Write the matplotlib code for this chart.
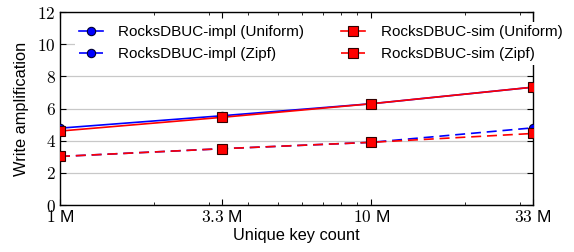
import matplotlib
matplotlib.use('Agg')
import matplotlib.pyplot as plt
from matplotlib.ticker import FixedLocator, NullFormatter, LogLocator

plt.rcParams['font.family'] = ['Liberation Sans', 'DejaVu Sans']
plt.rcParams['mathtext.fontset'] = 'cm'

# Data
keys = [1, 3.3, 10, 33]
tick_labels = ['$1$ M', '$3.3$ M', '$10$ M', '$33$ M']
impl_uniform = [4.78, 5.55, 6.3, 7.33]
sim_uniform = [4.6, 5.45, 6.3, 7.33]
impl_zipf = [3.02, 3.5, 3.9, 4.8]
sim_zipf = [3.02, 3.5, 3.9, 4.45]

fig = plt.figure(figsize=(5.74, 2.52), dpi=100)
ax = fig.add_axes([0.1045, 0.1865, 0.8241, 0.7655])

ax.plot(keys, impl_uniform, color='blue', lw=1.2, marker='o', ms=6,
        mfc='blue', mec='#000033', mew=0.8, label='RocksDBUC-impl (Uniform)', zorder=3)
ax.plot(keys, impl_zipf, color='blue', lw=1.2, ls=(0, (6, 3.5)), marker='o', ms=6,
        mfc='blue', mec='#000033', mew=0.8, label='RocksDBUC-impl (Zipf)', zorder=3)
ax.plot(keys, sim_uniform, color='red', lw=1.2, marker='s', ms=6.5,
        mfc='red', mec='#330000', mew=0.8, label='RocksDBUC-sim (Uniform)', zorder=4)
ax.plot(keys, sim_zipf, color='red', lw=1.2, ls=(0, (6, 3.5)), marker='s', ms=6.5,
        mfc='red', mec='#330000', mew=0.8, label='RocksDBUC-sim (Zipf)', zorder=4)

ax.set_xscale('log')
ax.set_xlim(1, 33)
ax.set_ylim(0, 12)
ax.xaxis.set_major_locator(FixedLocator(keys))
ax.set_xticklabels(tick_labels)
ax.xaxis.set_minor_locator(LogLocator(base=10, subs=range(2, 10)))
ax.xaxis.set_minor_formatter(NullFormatter())
ax.set_yticks([0, 2, 4, 6, 8, 10, 12])
ax.set_yticklabels(['$%d$' % v for v in [0, 2, 4, 6, 8, 10, 12]])

ax.tick_params(which='both', direction='in', top=True, right=True, labelsize=12.5, pad=3)
ax.tick_params(which='major', length=4, width=0.8)
ax.tick_params(which='minor', length=2.5, width=0.6)
ax.grid(axis='y', color='#c8c8c8', lw=0.9)
ax.set_axisbelow(True)
for s in ax.spines.values():
    s.set_linewidth(1.0)

ax.set_xlabel('Unique key count', fontsize=11.8, labelpad=2)
ax.set_ylabel('Write amplification', fontsize=11.8, labelpad=6)

leg = ax.legend(ncol=2, loc='upper left', bbox_to_anchor=(0.015, 0.99), frameon=True,
                fontsize=11, handlelength=1.6, handletextpad=1.0, columnspacing=2.4,
                labelspacing=0.5, borderpad=0.25, fancybox=False)
leg.get_frame().set_edgecolor('none')
leg.get_frame().set_facecolor('white')
leg.get_frame().set_alpha(1)
leg.set_zorder(5)

fig.savefig('out.png', dpi=100)
